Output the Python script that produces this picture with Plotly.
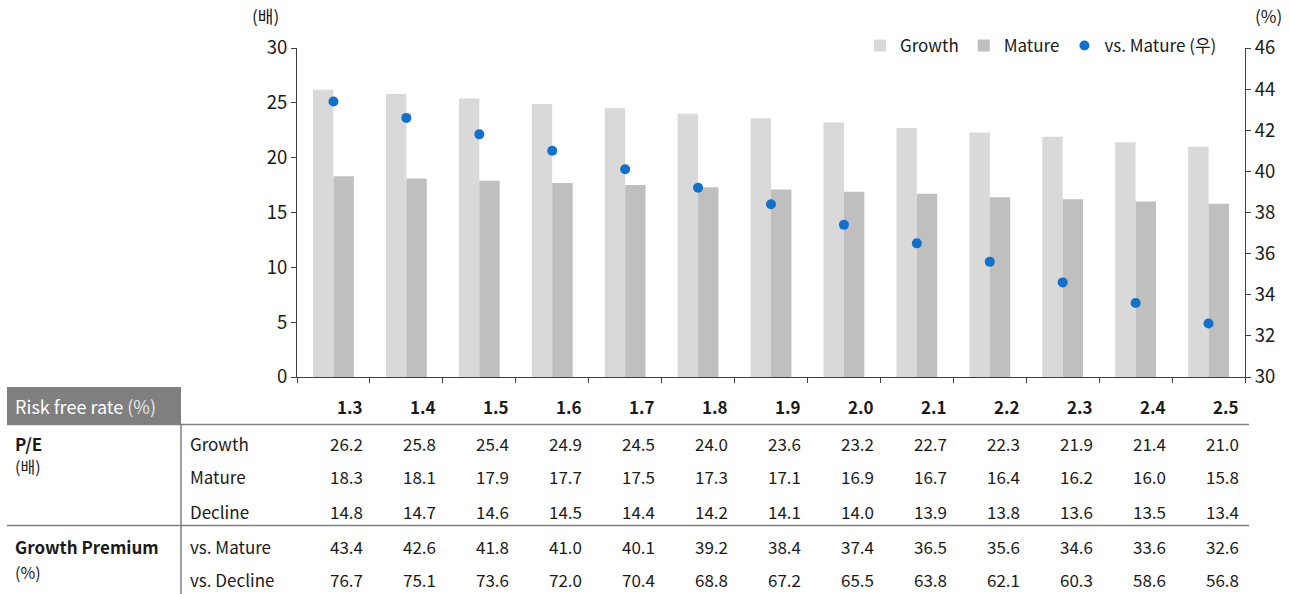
import plotly.graph_objects as go

# ---- data ----
risk_free = ["1.3", "1.4", "1.5", "1.6", "1.7", "1.8", "1.9", "2.0", "2.1", "2.2", "2.3", "2.4", "2.5"]
pe_growth = [26.2, 25.8, 25.4, 24.9, 24.5, 24.0, 23.6, 23.2, 22.7, 22.3, 21.9, 21.4, 21.0]
pe_mature = [18.3, 18.1, 17.9, 17.7, 17.5, 17.3, 17.1, 16.9, 16.7, 16.4, 16.2, 16.0, 15.8]
pe_decline = [14.8, 14.7, 14.6, 14.5, 14.4, 14.2, 14.1, 14.0, 13.9, 13.8, 13.6, 13.5, 13.4]
prem_vs_mature = [43.4, 42.6, 41.8, 41.0, 40.1, 39.2, 38.4, 37.4, 36.5, 35.6, 34.6, 33.6, 32.6]
prem_vs_decline = [76.7, 75.1, 73.6, 72.0, 70.4, 68.8, 67.2, 65.5, 63.8, 62.1, 60.3, 58.6, 56.8]

W, H = 1289, 594
FONT = "Noto Sans CJK KR"
TXT = "#1a1a1a"
AX = "#404040"


def py(pix):
    return 1 - pix / H


def px(pix):
    return pix / W


fig = go.Figure()
fig.add_trace(go.Bar(x=risk_free, y=pe_growth, name="Growth", marker_color="#d9d9d9",
                     marker_line_width=0))
fig.add_trace(go.Bar(x=risk_free, y=pe_mature, name="Mature", marker_color="#bfbfbf",
                     marker_line_width=0))
fig.add_trace(go.Scatter(x=risk_free, y=prem_vs_mature, name="vs. Mature (우)", mode="markers",
                         marker=dict(color="#1170c8", size=10), yaxis="y2"))

fig.update_layout(
    width=W, height=H,
    margin=dict(l=0, r=0, t=0, b=0, autoexpand=False),
    paper_bgcolor="white", plot_bgcolor="white",
    font=dict(family=FONT, size=17, color=TXT),
    barmode="group", bargap=0.44, bargroupgap=0,
    showlegend=True,
    legend=dict(orientation="h", x=px(1222), xanchor="right", y=py(46), yanchor="middle",
                font=dict(size=17, color=TXT), bgcolor="rgba(0,0,0,0)",
                itemwidth=30, traceorder="normal"),
    xaxis=dict(type="category", domain=[px(297), px(1245)], range=[-0.5, 12.5],
               showticklabels=False, ticks="outside", ticklen=5, tickcolor=AX,
               tickson="boundaries", showline=True, linecolor=AX, linewidth=1,
               showgrid=False, zeroline=False, fixedrange=True, automargin=False),
    yaxis=dict(domain=[py(377), py(48)], range=[0, 30], dtick=5, ticks="outside",
               ticklen=5, tickcolor=AX, showline=True, linecolor=AX, linewidth=1,
               showgrid=False, zeroline=False, tickfont=dict(size=18.5, color=TXT),
               automargin=False),
    yaxis2=dict(overlaying="y", side="right", range=[30, 46], dtick=2, ticks="outside",
                ticklen=5, tickcolor=AX, showline=True, linecolor=AX, linewidth=1,
                showgrid=False, zeroline=False, anchor="x", tickfont=dict(size=18.5, color=TXT),
                automargin=False),
)

ann = []
ann.append(dict(text="(배)", xref="paper", yref="paper", x=px(265), y=py(16),
                xanchor="center", yanchor="middle", showarrow=False, font=dict(size=17)))
ann.append(dict(text="(%)", xref="paper", yref="paper", x=px(1268), y=py(16),
                xanchor="center", yanchor="middle", showarrow=False, font=dict(size=17)))

# table header box and rules
shapes = [
    dict(type="rect", xref="paper", yref="paper", x0=px(7), x1=px(181), y0=py(424), y1=py(387),
         fillcolor="#7f7f7f", line_width=0, layer="below"),
    dict(type="line", xref="paper", yref="paper", x0=px(7), x1=px(1249), y0=py(424.5), y1=py(424.5),
         line=dict(color="#808080", width=1.5)),
    dict(type="line", xref="paper", yref="paper", x0=px(7), x1=px(1249), y0=py(525.5), y1=py(525.5),
         line=dict(color="#808080", width=1.5)),
    dict(type="line", xref="paper", yref="paper", x0=px(181), x1=px(181), y0=py(424), y1=py(594),
         line=dict(color="#808080", width=1.5)),
]
fig.update_layout(shapes=shapes)

ann.append(dict(text="Risk free rate <span style='color:#e6e6e6'>(%)</span>", xref="paper", yref="paper",
                x=px(13), y=py(406), xanchor="left", yanchor="middle", showarrow=False,
                font=dict(size=18, color="white")))
ann.append(dict(text="<b>P/E</b>", xref="paper", yref="paper", x=px(13), y=py(443),
                xanchor="left", yanchor="middle", showarrow=False, font=dict(size=17)))
ann.append(dict(text="(배)", xref="paper", yref="paper", x=px(13), y=py(466),
                xanchor="left", yanchor="middle", showarrow=False, font=dict(size=16)))
ann.append(dict(text="<b>Growth Premium</b>", xref="paper", yref="paper", x=px(13), y=py(546),
                xanchor="left", yanchor="middle", showarrow=False, font=dict(size=17)))
ann.append(dict(text="(%)", xref="paper", yref="paper", x=px(13), y=py(572),
                xanchor="left", yanchor="middle", showarrow=False, font=dict(size=16)))

rows = [("Growth", pe_growth, 443), ("Mature", pe_mature, 476), ("Decline", pe_decline, 511),
        ("vs. Mature", prem_vs_mature, 546), ("vs. Decline", prem_vs_decline, 579)]
for label, vals, yp in rows:
    ann.append(dict(text=label, xref="paper", yref="paper", x=px(188), y=py(yp),
                    xanchor="left", yanchor="middle", showarrow=False, font=dict(size=17)))
    for i, v in enumerate(vals):
        ann.append(dict(text=f"{v:.1f}", xref="x", yref="paper", x=i, y=py(yp), xshift=32,
                        xanchor="right", yanchor="middle", showarrow=False, font=dict(size=17)))

for i, c in enumerate(risk_free):
    ann.append(dict(text=f"<b>{c}</b>", xref="x", yref="paper", x=i, y=py(406), xshift=32,
                    xanchor="right", yanchor="middle", showarrow=False, font=dict(size=17)))

fig.update_layout(annotations=ann)
fig.write_html("out.html")
